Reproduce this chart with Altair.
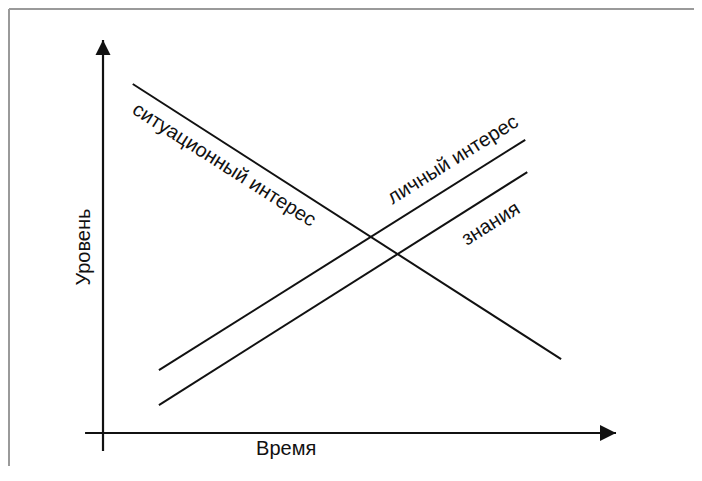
import altair as alt
import pandas as pd

# --- data (schematic units: time on x, level on y; axes meet at 0,0, arrows end at 10) ---
series = ["ситуационный интерес", "личный интерес", "знания"]
x_start = [0.58, 1.09, 1.09]
y_start = [8.88, 1.60, 0.71]
x_end = [8.93, 8.23, 8.27]
y_end = [1.88, 7.46, 6.64]

label_x = [2.36, 6.82, 7.56]
label_y = [6.82, 6.95, 5.32]
label_angle = [32.5, 328, 328]

axis_names = ["Время", "Уровень"]
axis_name_x = [3.57, -0.37]
axis_name_y = [-0.41, 4.73]
axis_name_angle = [0, 270]

axis_from_x = [-0.35, 0.0]
axis_from_y = [0.0, -0.46]
axis_to_x = [10.0, 0.0]
axis_to_y = [0.0, 10.0]

W, H = 686, 458
XD = [-1.852, 11.520]
YD = [-0.840, 10.814]

xs = alt.Scale(domain=XD, nice=False, zero=False)
ys = alt.Scale(domain=YD, nice=False, zero=False)

lines_df = pd.DataFrame({"series": series, "x": x_start, "y": y_start, "x2": x_end, "y2": y_end})
labels_df = pd.DataFrame({"text": series, "x": label_x, "y": label_y, "angle": label_angle})
axes_df = pd.DataFrame({"x": axis_from_x, "y": axis_from_y, "x2": axis_to_x, "y2": axis_to_y})
names_df = pd.DataFrame({"text": axis_names, "x": axis_name_x, "y": axis_name_y, "angle": axis_name_angle})
arrow_up = pd.DataFrame({"x": [axis_to_x[1]], "y": [axis_to_y[1]]})
arrow_right = pd.DataFrame({"x": [axis_to_x[0]], "y": [axis_to_y[0]]})

INK = "#111111"
FONT = "Liberation Sans"

border = alt.Chart(pd.DataFrame({"k": [0]})).mark_rule(color="#9a9a9a", strokeWidth=2).encode(
    x=alt.value(1), x2=alt.value(W), y=alt.value(1), y2=alt.value(1)
) + alt.Chart(pd.DataFrame({"k": [0]})).mark_rule(color="#9a9a9a", strokeWidth=2).encode(
    x=alt.value(1), x2=alt.value(1), y=alt.value(1), y2=alt.value(H)
)

axes = alt.Chart(axes_df).mark_rule(color=INK, strokeWidth=2.2).encode(
    x=alt.X("x:Q", scale=xs, axis=None),
    y=alt.Y("y:Q", scale=ys, axis=None),
    x2="x2:Q",
    y2="y2:Q",
)

head_up = alt.Chart(arrow_up).mark_point(
    shape="M0,0L-1,2L1,2Z", size=225, filled=True, color=INK, opacity=1, strokeWidth=0
).encode(x=alt.X("x:Q", scale=xs, axis=None), y=alt.Y("y:Q", scale=ys, axis=None))

head_right = alt.Chart(arrow_right).mark_point(
    shape="M0,0L-2,-1L-2,1Z", size=256, filled=True, color=INK, opacity=1, strokeWidth=0
).encode(x=alt.X("x:Q", scale=xs, axis=None), y=alt.Y("y:Q", scale=ys, axis=None))

lines = alt.Chart(lines_df).mark_rule(color=INK, strokeWidth=2).encode(
    x=alt.X("x:Q", scale=xs, axis=None),
    y=alt.Y("y:Q", scale=ys, axis=None),
    x2="x2:Q",
    y2="y2:Q",
    detail="series:N",
)

labels = alt.Chart(labels_df).mark_text(
    font=FONT, fontSize=20, color=INK, align="center", baseline="middle"
).encode(
    x=alt.X("x:Q", scale=xs, axis=None),
    y=alt.Y("y:Q", scale=ys, axis=None),
    text="text:N",
    angle=alt.Angle("angle:Q", scale=None),
)

names = alt.Chart(names_df).mark_text(
    font=FONT, fontSize=20, color=INK, align="center", baseline="middle"
).encode(
    x=alt.X("x:Q", scale=xs, axis=None),
    y=alt.Y("y:Q", scale=ys, axis=None),
    text="text:N",
    angle=alt.Angle("angle:Q", scale=None),
)

chart = alt.layer(border, axes, lines, head_up, head_right, labels, names).properties(
    width=W, height=H, autosize=alt.AutoSizeParams(type="none"), padding=0,
    background="white",
).configure_view(stroke=None)

chart.save("out.html", embed_options={"renderer": "svg", "actions": False})
